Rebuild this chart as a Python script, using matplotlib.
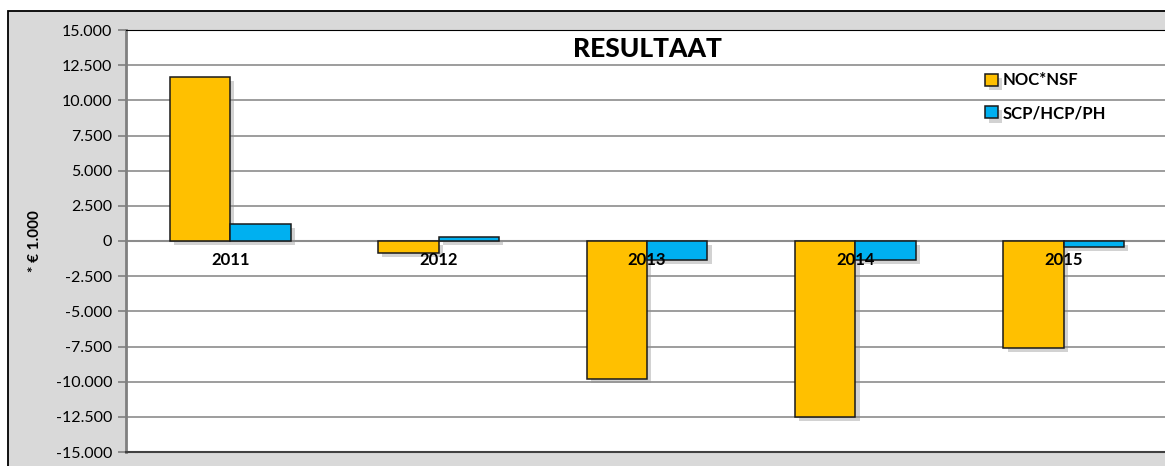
import matplotlib.pyplot as plt
import matplotlib.patheffects as pe
from matplotlib.patches import Rectangle
import numpy as np

years = ['2011', '2012', '2013', '2014', '2015']
noc_nsf = [11650, -850, -9800, -12500, -7600]
scp_hcp_ph = [1200, 250, -1350, -1350, -450]
series_names = ['NOC*NSF', 'SCP/HCP/PH']

plt.rcParams['font.family'] = ['Lato', 'DejaVu Sans']

fig = plt.figure(figsize=(11.65, 4.66), dpi=100)
fig.patch.set_facecolor('white')

# grey chart area with black border
fig.add_artist(Rectangle((8 / 1165, -0.1), 1.2, 1 - 11 / 466 + 0.1,
                         transform=fig.transFigure, facecolor='#d9d9d9',
                         edgecolor='black', linewidth=1.3, zorder=0))

ax = fig.add_axes([126 / 1165, 14 / 466, 1042 / 1165, 422 / 466])
ax.set_facecolor('white')

x = np.arange(len(years))
w = 0.29
shadow = [pe.SimplePatchShadow(offset=(3, -3), shadow_rgbFace='#909090', alpha=0.4), pe.Normal()]
b1 = ax.bar(x - w / 2, noc_nsf, w, color='#ffc000', edgecolor='#1a1a1a', linewidth=1.1,
            label=series_names[0], zorder=3)
b2 = ax.bar(x + w / 2, scp_hcp_ph, w, color='#00b0f0', edgecolor='#1a1a1a', linewidth=1.1,
            label=series_names[1], zorder=3)
for b in list(b1) + list(b2):
    b.set_path_effects(shadow)

ax.set_xlim(-0.5, len(years) - 0.5)
ax.set_ylim(-15000, 15000)
ticks = np.arange(-15000, 15001, 2500)
ax.set_yticks(ticks)
ax.set_yticklabels([f'{t:,.0f}'.replace(',', '.') for t in ticks], fontsize=11.5)
ax.yaxis.grid(True, color='#8c8c8c', linewidth=1.2, zorder=0)
ax.set_axisbelow(True)
ax.set_xticks([])
ax.axhline(0, color='#8c8c8c', linewidth=1.5, zorder=2)

ax.spines['left'].set_color('#808080')
ax.spines['left'].set_linewidth(2)
ax.spines['bottom'].set_color('#404040')
ax.spines['bottom'].set_linewidth(1.5)
ax.spines['top'].set_color('black')
ax.spines['right'].set_visible(False)
ax.tick_params(axis='y', length=6, width=1.2, color='#808080', pad=4)

for xi, yr in zip(x, years):
    ax.text(xi, -1350, yr, ha='center', va='center', fontsize=12, fontweight='bold', zorder=5)

ax.set_ylabel('* € 1.000', fontsize=11, fontweight='bold', labelpad=10)
ax.text(0.5, 0.955, 'RESULTAAT', transform=ax.transAxes, ha='center', va='center',
        fontsize=19, fontweight='black')

ax.legend(loc='upper left', bbox_to_anchor=(0.81, 0.935), frameon=False,
          prop={'size': 12, 'weight': 'bold'}, handlelength=0.75, handleheight=0.75,
          handletextpad=0.3, labelspacing=1.0)

fig.savefig('out.png', dpi=100)
